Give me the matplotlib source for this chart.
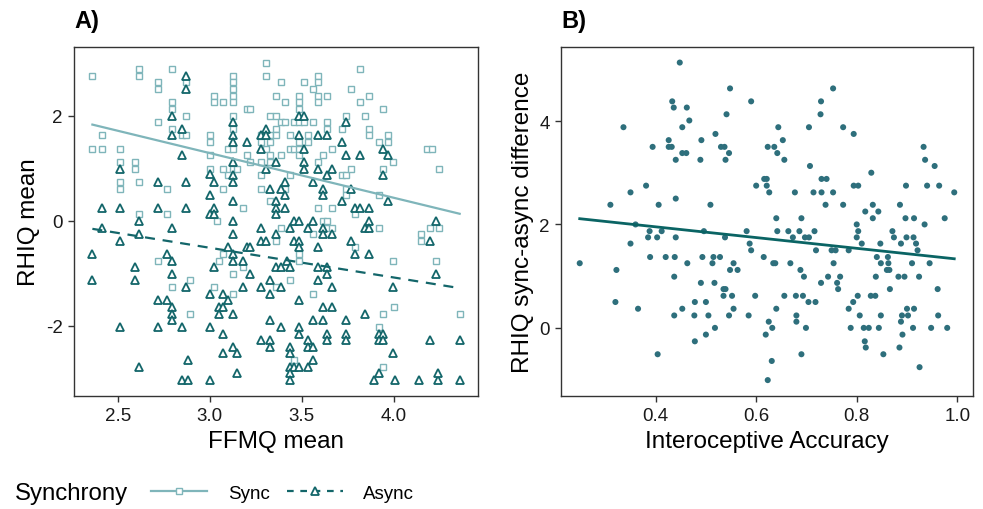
import numpy as np
import matplotlib.pyplot as plt
from matplotlib.lines import Line2D

plt.rcParams['font.family'] = ['Liberation Sans', 'DejaVu Sans']
plt.rcParams['axes.unicode_minus'] = False

# panel A : (FFMQ mean, RHIQ mean) per participant
sync_pts = [
    (2.361, 2.76), (2.615, 2.89), (2.615, 2.76), (2.794, 2.89), (2.869, 2.635), (2.718, 2.635),
    (2.718, 2.51), (2.794, 2.256), (2.794, 2.13), (2.869, 2.0), (2.718, 1.877), (2.794, 1.75),
    (2.85, 1.625), (2.87, 1.625), (2.412, 1.625), (2.361, 1.37), (2.412, 1.37), (2.512, 1.37),
    (2.512, 1.118), (2.592, 1.118), (2.592, 0.99), (2.512, 0.74), (2.512, 0.61), (2.615, 0.74),
    (2.769, 0.61), (2.615, 0.12), (2.769, 0.12), (3.0, 1.625), (3.0, 1.5), (3.0, 1.24), (3.0, 0.99),
    (3.025, 2.38), (3.025, 2.256), (3.07, 2.256), (3.125, 2.76), (3.125, 2.635), (3.125, 2.51),
    (3.125, 2.38), (3.125, 2.256), (3.125, 2.0), (3.125, 1.75), (3.1, 1.37), (3.125, 1.37),
    (3.125, 0.99), (3.15, 0.99), (3.1, 0.865), (3.07, 0.99), (3.07, 0.61), (3.18, 0.23), (3.2, 1.24),
    (3.22, 1.118), (3.2, 2.13), (3.22, 2.13),
    (3.04, 0.0), (3.07, -0.64), (3.05, -0.77), (2.718, -0.77), (3.125, -1.02), (3.18, -0.89),
    (2.89, -1.14), (2.794, -1.27), (3.025, -1.27), (3.125, -1.4), (2.89, -1.78),
    (3.305, 3.01), (3.305, 2.76), (3.817, 2.89), (3.385, 2.635), (3.511, 2.635), (3.588, 2.76),
    (3.588, 2.635), (3.563, 2.51), (3.358, 2.38), (3.485, 2.38), (3.485, 2.256), (3.485, 2.13),
    (3.588, 2.38), (3.588, 2.256), (3.64, 2.38), (3.41, 2.256), (3.767, 2.51), (3.868, 2.38),
    (3.817, 2.256), (3.945, 2.13), (3.33, 2.0), (3.358, 2.0), (3.385, 1.877), (3.41, 1.877),
    (3.46, 1.877), (3.485, 1.877), (3.511, 1.877), (3.563, 1.877), (3.64, 1.877), (3.741, 2.0),
    (3.844, 2.0), (3.358, 1.75), (3.64, 1.75), (3.722, 1.75), (3.868, 1.75), (3.868, 1.625),
    (3.28, 1.625), (3.33, 1.625), (3.358, 1.625), (3.435, 1.625), (3.536, 1.625), (3.92, 1.5),
    (3.97, 1.5), (3.97, 1.625), (3.28, 1.5), (3.33, 1.5), (3.485, 1.5), (3.536, 1.5), (3.435, 1.37),
    (3.46, 1.37), (3.485, 1.37), (3.666, 1.37), (3.305, 1.37), (3.33, 1.24), (3.385, 1.24),
    (3.485, 1.24), (3.614, 1.24), (3.28, 1.118), (3.33, 1.118), (3.588, 1.118), (3.996, 1.118),
    (4.18, 1.37), (4.21, 1.37), (4.25, 0.99), (3.28, 0.865), (3.435, 0.865), (3.722, 0.865),
    (3.741, 0.865), (3.767, 0.99), (3.945, 0.99), (3.28, 0.61), (3.41, 0.61), (3.741, 0.61),
    (3.741, 0.49), (3.92, 0.49), (3.33, 0.37), (3.588, 0.246), (3.666, 0.246), (3.79, 0.12),
    (3.614, 0.0), (3.64, 0.0), (3.64, -0.133), (3.666, -0.133), (3.385, -0.133), (3.358, -0.385),
    (3.563, -0.25), (3.92, -0.133), (4.2, -0.133), (4.25, -0.133), (4.15, -0.25), (4.15, -0.385),
    (3.79, -0.51), (3.485, -0.64), (3.485, -0.77), (3.996, -0.77), (4.23, -0.77), (3.435, -1.14),
    (3.358, -1.27), (3.563, -1.4), (4.0, -1.65), (3.945, -1.78), (4.36, -1.78), (3.92, -2.03),
    (3.46, -2.66), (3.945, -2.79),
]
async_pts = [
    (2.869, 2.76), (2.869, 2.51), (2.794, 2.0), (2.85, 1.75), (2.794, 1.625), (2.85, 1.24),
    (2.512, 0.99), (2.718, 0.74), (2.869, 0.74), (2.412, 0.246), (2.512, 0.246), (2.718, 0.246),
    (2.869, 0.246), (3.0, 0.878), (3.025, 0.74), (3.0, 0.49), (3.025, 0.246), (3.0, 0.12),
    (3.025, 0.12), (3.125, 1.877), (3.125, 1.625), (3.125, 1.5), (3.2, 1.5), (3.125, 1.118),
    (3.125, 0.865), (3.125, 0.74), (3.125, 0.37),
    (2.412, -0.133), (2.512, -0.385), (2.615, 0.0), (2.615, -0.25), (2.794, -0.133), (2.361, -0.64),
    (2.361, -1.14), (2.592, -0.89), (2.592, -1.14), (2.769, -0.64), (2.794, -0.77), (2.794, -1.02),
    (2.869, -1.27), (2.718, -1.52), (2.769, -1.52), (2.794, -1.65), (2.794, -1.78), (2.794, -1.9),
    (2.512, -2.03), (2.718, -2.03), (2.85, -2.03), (3.0, -2.03), (2.615, -2.79), (2.88, -2.66),
    (2.85, -3.04), (2.88, -3.04), (3.0, -3.04), (3.125, 0.0), (3.125, -0.25), (3.025, -0.89),
    (3.1, -0.51), (3.125, -0.64), (3.125, -0.77), (3.18, -0.77), (3.22, -1.02), (3.2, -0.51),
    (3.22, -0.51), (3.0, -1.4), (3.07, -1.4), (3.1, -1.52), (3.05, -1.65), (3.07, -1.65),
    (3.05, -1.78), (3.125, -1.78), (3.18, -1.27), (3.07, -2.16), (3.125, -2.41), (3.07, -2.53),
    (3.15, -2.53), (3.15, -2.91),
    (3.485, 2.0), (3.511, 2.0), (3.741, 1.877), (3.307, 1.75), (3.28, 1.625), (3.307, 1.625),
    (3.485, 1.625), (3.588, 1.625), (3.64, 1.625), (3.722, 1.5), (3.28, 1.37), (3.511, 1.37),
    (3.945, 1.37), (3.741, 1.24), (3.817, 1.24), (3.97, 1.24), (3.358, 1.118), (3.511, 1.118),
    (3.511, 0.99), (3.588, 0.99), (3.666, 0.99), (3.307, 0.99), (3.64, 0.865), (3.945, 0.865),
    (3.563, 0.74), (3.41, 0.74), (3.33, 0.61), (3.385, 0.61), (3.41, 0.49), (3.614, 0.61),
    (3.614, 0.49), (3.767, 0.61), (3.722, 0.37), (3.97, 0.37), (3.358, 0.37), (3.358, 0.246),
    (3.358, 0.12), (3.41, 0.246), (3.79, 0.246), (3.817, 0.246), (3.868, 0.246),
    (3.46, 0.0), (3.485, 0.0), (3.563, 0.0), (3.614, -0.133), (3.536, -0.133), (3.435, -0.133),
    (3.28, -0.133), (3.358, -0.25), (3.614, -0.25), (3.666, -0.25), (3.28, -0.385), (3.307, -0.385),
    (3.46, -0.385), (3.485, -0.385), (3.485, -0.51), (3.588, -0.51), (3.767, -0.385), (3.868, 0.0),
    (3.844, -0.133), (3.868, -0.133), (3.79, -0.64), (3.868, -0.64), (4.23, 0.0), (4.2, -0.385),
    (4.23, -1.02), (3.42, -0.77), (3.358, -0.89), (3.385, -0.89), (3.435, -0.89), (3.588, -0.89),
    (3.64, -0.89), (3.64, -1.02), (3.33, -1.14), (3.588, -1.14), (3.28, -1.27), (3.385, -1.27),
    (3.33, -1.4), (3.666, -1.27), (3.996, -1.27), (3.485, -1.52), (3.614, -1.65), (3.666, -1.65),
    (3.844, -1.78), (3.33, -1.9), (3.563, -1.9), (3.614, -1.9), (3.741, -1.9), (3.385, -2.03),
    (3.485, -2.03), (3.485, -2.16), (3.64, -2.16), (3.64, -2.28), (3.741, -2.16), (3.741, -2.28),
    (3.92, -2.16), (3.945, -2.16), (3.92, -2.28), (3.945, -2.28), (3.28, -2.28), (3.33, -2.28),
    (3.33, -2.41), (3.435, -2.41), (3.435, -2.53), (3.536, -2.28), (3.536, -2.41), (3.563, -2.41),
    (4.2, -2.28), (4.36, -2.28), (3.996, -2.53), (3.563, -2.66), (3.435, -2.79), (3.46, -2.79),
    (3.485, -2.79), (3.536, -2.79), (3.435, -2.91), (3.435, -3.04), (3.92, -2.91), (3.895, -3.04),
    (4.01, -3.04), (4.14, -3.04), (4.24, -3.04), (4.36, -3.04), (4.24, -2.91),
]
# lm fits (slope, intercept)
sync_fit = (-0.85, 3.835)
async_fit = (-0.565, 1.176)

# panel B : (interoceptive accuracy, sync-async difference)
diff_pts = [
    (0.448, 5.13), (0.548, 4.63), (0.59, 4.38), (0.433, 4.38), (0.436, 4.26), (0.462, 4.26),
    (0.541, 4.13), (0.467, 4.01), (0.453, 3.88), (0.336, 3.88), (0.519, 3.75), (0.426, 3.63),
    (0.491, 3.63), (0.394, 3.5), (0.426, 3.5), (0.432, 3.5), (0.53, 3.5), (0.537, 3.5),
    (0.453, 3.38), (0.461, 3.38), (0.546, 3.38), (0.44, 3.25), (0.489, 3.25), (0.539, 3.25),
    (0.616, 2.88), (0.6, 2.75), (0.381, 2.75), (0.35, 2.62), (0.31, 2.38), (0.406, 2.38),
    (0.44, 2.5), (0.509, 2.38),
    (0.753, 4.63), (0.729, 4.38), (0.728, 4.13), (0.644, 3.88), (0.705, 3.88), (0.773, 3.88),
    (0.794, 3.75), (0.653, 3.63), (0.623, 3.5), (0.636, 3.5), (0.642, 3.38), (0.656, 3.25),
    (0.933, 3.5), (0.936, 3.25), (0.955, 3.13), (0.707, 3.13), (0.829, 3.0), (0.621, 2.88),
    (0.73, 2.88), (0.74, 2.88), (0.621, 2.75), (0.794, 2.75), (0.803, 2.75), (0.898, 2.75),
    (0.94, 2.75), (0.964, 2.75), (0.626, 2.62), (0.677, 2.62), (0.714, 2.62), (0.73, 2.62),
    (0.753, 2.62), (0.994, 2.62), (0.738, 2.38), (0.773, 2.38), (0.832, 2.38), (0.886, 2.38),
    (0.817, 2.25), (0.843, 2.25), (0.64, 2.12), (0.69, 2.12), (0.832, 2.12), (0.897, 2.12),
    (0.914, 2.12), (0.975, 2.12),
    (0.36, 2.0), (0.388, 1.87), (0.412, 1.87), (0.385, 1.75), (0.403, 1.75), (0.44, 1.75),
    (0.496, 1.87), (0.581, 1.87), (0.538, 1.75), (0.35, 1.63), (0.587, 1.63), (0.59, 1.5),
    (0.249, 1.25), (0.322, 1.12), (0.389, 1.37), (0.42, 1.37), (0.438, 1.37), (0.493, 1.37),
    (0.515, 1.37), (0.528, 1.37), (0.615, 1.37), (0.463, 1.25), (0.513, 1.25), (0.555, 1.25),
    (0.548, 1.12), (0.563, 1.12), (0.437, 0.99), (0.49, 0.87), (0.517, 0.87), (0.535, 0.75),
    (0.539, 0.75), (0.535, 0.62), (0.552, 0.62), (0.598, 0.62), (0.32, 0.5), (0.478, 0.5),
    (0.5, 0.5), (0.365, 0.37), (0.453, 0.37), (0.555, 0.37), (0.437, 0.24), (0.477, 0.24),
    (0.505, 0.24), (0.546, 0.24), (0.585, 0.24), (0.518, 0.0), (0.5, -0.13), (0.478, -0.26),
    (0.404, -0.51),
    (0.8, 2.0), (0.935, 2.0), (0.642, 1.87), (0.664, 1.87), (0.686, 1.87), (0.716, 1.87),
    (0.803, 1.87), (0.871, 1.87), (0.673, 1.75), (0.697, 1.75), (0.705, 1.75), (0.8, 1.75),
    (0.874, 1.75), (0.899, 1.75), (0.913, 1.75), (0.81, 1.63), (0.847, 1.63), (0.888, 1.63),
    (0.918, 1.63), (0.719, 1.5), (0.75, 1.5), (0.758, 1.5), (0.784, 1.5), (0.921, 1.5),
    (0.84, 1.37), (0.862, 1.37), (0.634, 1.25), (0.638, 1.25), (0.668, 1.25), (0.754, 1.25),
    (0.848, 1.25), (0.863, 1.25), (0.91, 1.25), (0.945, 1.25), (0.688, 1.12), (0.86, 1.12),
    (0.865, 1.12), (0.695, 0.99), (0.743, 0.99), (0.767, 0.99), (0.838, 0.99), (0.883, 0.99),
    (0.895, 0.99), (0.924, 0.99), (0.729, 0.87), (0.761, 0.87), (0.763, 0.75), (0.866, 0.75),
    (0.961, 0.75), (0.656, 0.62), (0.679, 0.62), (0.693, 0.62), (0.802, 0.62), (0.828, 0.62),
    (0.837, 0.62), (0.704, 0.5), (0.718, 0.5), (0.793, 0.5), (0.64, 0.37), (0.784, 0.37),
    (0.9, 0.37), (0.914, 0.37), (0.68, 0.24), (0.806, 0.24), (0.848, 0.24), (0.89, 0.24),
    (0.902, 0.24), (0.962, 0.24), (0.625, 0.12), (0.68, 0.12), (0.888, 0.12), (0.632, 0.0),
    (0.699, 0.0), (0.788, 0.0), (0.814, 0.0), (0.824, 0.0), (0.844, 0.0), (0.912, 0.0),
    (0.948, 0.0), (0.98, 0.0), (0.619, -0.13), (0.891, -0.13), (0.816, -0.26), (0.818, -0.38),
    (0.885, -0.38), (0.69, -0.51), (0.853, -0.51), (0.631, -0.64), (0.925, -0.76), (0.623, -1.01),
]
diff_fit = (-1.04, 2.37)

sync_col = "#7fb5ba"
async_col = "#13666a"
dot_col = "#2e6f7c"
line_b_col = "#0a6464"

sync = np.array(sync_pts)
asyn = np.array(async_pts)
diff = np.array(diff_pts)


def style_axes(ax):
    for s in ax.spines.values():
        s.set_color("#333333")
        s.set_linewidth(1.0)
    ax.tick_params(direction="out", length=4, width=1.0, color="#333333",
                   labelsize=13.5, labelcolor="#1a1a1a", pad=4)


def pad_lim(v):
    span = v.max() - v.min()
    return v.min() - 0.05 * span, v.max() + 0.05 * span


fig = plt.figure(figsize=(9.83, 5.10), dpi=100)

# ---- panel A
axA = fig.add_axes([0.0753, 0.2216, 0.411, 0.6849])
axA.plot(sync[:, 0], sync[:, 1], ls="none", marker="s", ms=4.2, mfc="white",
         mec=sync_col, mew=1.0, zorder=2)
axA.plot(asyn[:, 0], asyn[:, 1], ls="none", marker="^", ms=5.2, mfc="white",
         mec=async_col, mew=1.3, zorder=3)

xa = np.array([min(sync[:, 0].min(), asyn[:, 0].min()), max(sync[:, 0].max(), asyn[:, 0].max())])
axA.plot(xa, sync_fit[0] * xa + sync_fit[1], color=sync_col, lw=1.6, zorder=4)
ln, = axA.plot(xa, async_fit[0] * xa + async_fit[1], color=async_col, lw=1.6, zorder=4)
ln.set_dashes([4.5, 3.5])

allA = np.vstack([sync, asyn])
axA.set_xlim(*pad_lim(allA[:, 0]))
axA.set_ylim(*pad_lim(allA[:, 1]))
axA.set_xticks([2.5, 3.0, 3.5, 4.0])
axA.set_yticks([-2, 0, 2])
axA.set_xlabel("FFMQ mean", fontsize=17.5, labelpad=4)
axA.set_ylabel("RHIQ mean", fontsize=17.5, labelpad=4)
style_axes(axA)

# ---- panel B
axB = fig.add_axes([0.5707, 0.2216, 0.4191, 0.6849])
axB.scatter(diff[:, 0], diff[:, 1], s=19, color=dot_col, edgecolors="none", zorder=2)
xb = np.array([diff[:, 0].min(), diff[:, 0].max()])
axB.plot(xb, diff_fit[0] * xb + diff_fit[1], color=line_b_col, lw=2.0, zorder=3)
axB.set_xlim(*pad_lim(diff[:, 0]))
axB.set_ylim(*pad_lim(diff[:, 1]))
axB.set_xticks([0.4, 0.6, 0.8, 1.0])
axB.set_yticks([0, 2, 4])
axB.set_xlabel("Interoceptive Accuracy", fontsize=17.5, labelpad=4)
axB.set_ylabel("RHIQ sync-async difference", fontsize=17.5, labelpad=4)
style_axes(axB)

fig.text(0.0753, 0.957, "A)", fontsize=17, fontweight="bold", va="center", ha="left")
fig.text(0.5707, 0.957, "B)", fontsize=17, fontweight="bold", va="center", ha="left")

# ---- legend at the bottom
fig.text(0.015, 0.031, "Synchrony", fontsize=17.3, va="center", ha="left")
h_sync = Line2D([], [], color=sync_col, lw=1.6, marker="s", ms=4.2, mfc="white",
                mec=sync_col, mew=1.0)
h_async = Line2D([], [], color=async_col, lw=1.6, marker="^", ms=5.2, mfc="white",
                 mec=async_col, mew=1.3, dashes=[3.0, 3.0])
fig.legend([h_sync, h_async], ["Sync", "Async"], loc="center left",
           bbox_to_anchor=(0.144, 0.031), ncol=2, frameon=False, fontsize=13.5,
           numpoints=1, handlelength=3.0, handletextpad=1.1, columnspacing=0.9,
           borderpad=0)

fig.savefig("out.png", dpi=100)
